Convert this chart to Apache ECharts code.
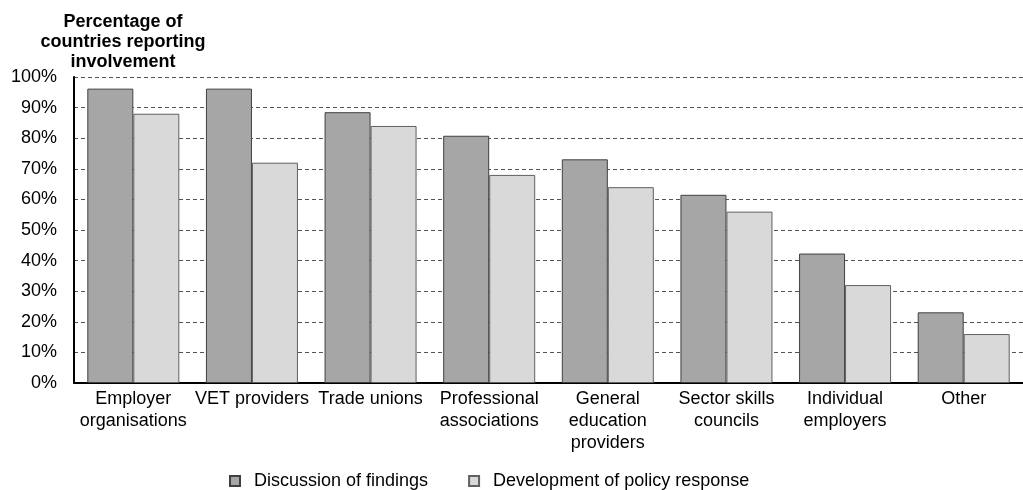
<!DOCTYPE html>
<html>
<head>
<meta charset="utf-8">
<script src="https://cdn.jsdelivr.net/npm/echarts@6/dist/echarts.min.js"></script>
<style>
html,body{margin:0;padding:0;background:#fff;}
#c{width:1023px;height:490px;}
</style>
</head>
<body>
<div id="c"></div>
<script>
var categories = ['Employer\norganisations', 'VET providers', 'Trade unions', 'Professional\nassociations', 'General\neducation\nproviders', 'Sector skills\ncouncils', 'Individual\nemployers', 'Other'];
var discussionOfFindings = [96.2, 96.2, 88.5, 80.8, 73.1, 61.5, 42.3, 23.1];
var developmentOfPolicyResponse = [88, 72, 84, 68, 64, 56, 32, 16];
var seriesNames = ['Discussion of findings', 'Development of policy response'];
var yTicks = { min: 0, max: 100, interval: 10 };

var chart = echarts.init(document.getElementById('c'));
var FONT = 'Liberation Sans, Arial, sans-serif';
chart.setOption({
  animation: false,
  textStyle: { fontFamily: FONT, color: '#000' },
  title: {
    text: 'Percentage of\ncountries reporting\ninvolvement',
    left: 118, top: 7, textAlign: 'center',
    textStyle: { fontFamily: FONT, fontWeight: 'bold', fontSize: 18, lineHeight: 20, color: '#000' }
  },
  legend: {
    left: 224, top: 467,
    icon: 'rect', itemWidth: 10, itemHeight: 10, itemGap: 40,
    textStyle: { fontFamily: FONT, fontSize: 18, color: '#000', padding: [0, 0, 0, 9] },
    data: seriesNames
  },
  grid: { left: 74, top: 77, width: 960, height: 306, containLabel: false },
  xAxis: {
    type: 'category', data: categories,
    axisLine: { show: true, lineStyle: { color: '#000', width: 2 } },
    axisTick: { show: false },
    axisLabel: { interval: 0, fontSize: 18, lineHeight: 22, color: '#000', margin: 5, fontFamily: FONT }
  },
  yAxis: {
    type: 'value', min: yTicks.min, max: yTicks.max, interval: yTicks.interval,
    axisLine: { show: true, lineStyle: { color: '#000', width: 2 } },
    axisTick: { show: false },
    axisLabel: { formatter: '{value}%', fontSize: 18, color: '#000', margin: 17, fontFamily: FONT },
    splitLine: { show: true, lineStyle: { color: '#555', width: 1, type: [4, 3] } }
  },
  series: [
    {
      name: seriesNames[0], type: 'bar', data: discussionOfFindings,
      barWidth: 46, barGap: '0%',
      itemStyle: { color: '#a6a6a6', borderColor: '#404040', borderWidth: 1 }
    },
    {
      name: seriesNames[1], type: 'bar', data: developmentOfPolicyResponse,
      barWidth: 46, barGap: '0%',
      itemStyle: { color: '#d9d9d9', borderColor: '#606060', borderWidth: 1 }
    }
  ]
});
</script>
</body>
</html>
